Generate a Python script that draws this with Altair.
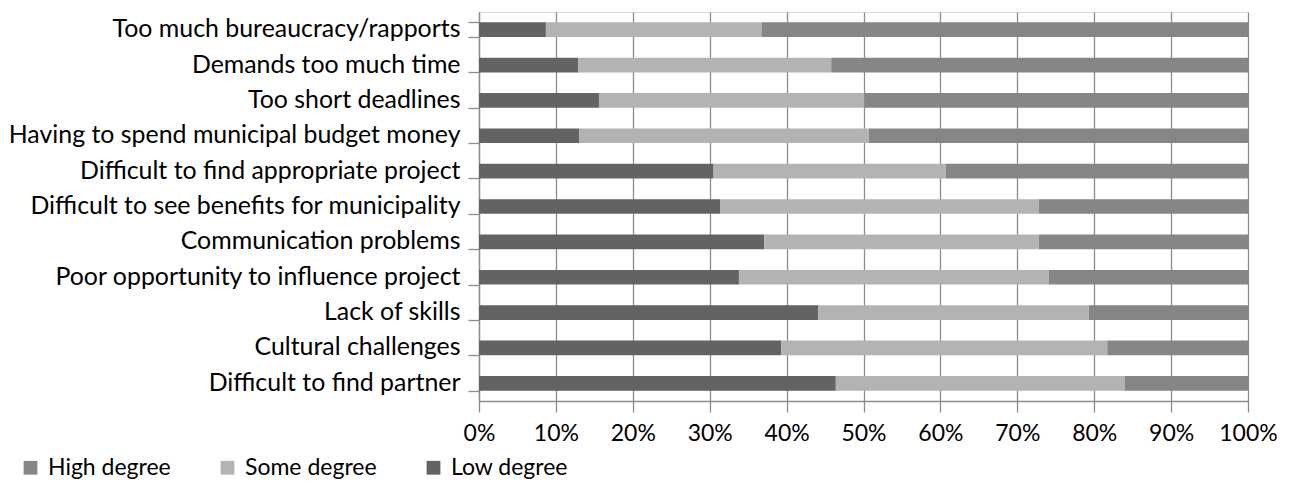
import altair as alt
import pandas as pd

categories = [
    "Too much bureaucracy/rapports",
    "Demands too much time",
    "Too short deadlines",
    "Having to spend municipal budget money",
    "Difficult to find appropriate project",
    "Difficult to see benefits for municipality",
    "Communication problems",
    "Poor opportunity to influence project",
    "Lack of skills",
    "Cultural challenges",
    "Difficult to find partner",
]
low_degree = [8.7, 12.9, 15.6, 13.0, 30.5, 31.4, 37.1, 33.8, 44.1, 39.3, 46.4]
some_degree = [28.1, 32.9, 34.5, 37.7, 30.2, 41.4, 35.7, 40.3, 35.2, 42.4, 37.6]
high_degree = [63.2, 54.2, 49.9, 49.3, 39.3, 27.2, 27.2, 25.9, 20.7, 18.3, 16.0]

series_names = ["High degree", "Some degree", "Low degree"]
series_colors = ["#868686", "#b3b3b3", "#636363"]
stack_rank = {"Low degree": 0, "Some degree": 1, "High degree": 2}
x_ticks = [0, 10, 20, 30, 40, 50, 60, 70, 80, 90, 100]

rows = []
for i, c in enumerate(categories):
    for name, vals in (("Low degree", low_degree), ("Some degree", some_degree), ("High degree", high_degree)):
        rows.append({"category": c, "series": name, "value": vals[i], "rank": stack_rank[name]})
df = pd.DataFrame(rows)

FONT = "Lato"
GRID = "#8c8c8c"

chart = alt.Chart(df).mark_bar(strokeWidth=0).encode(
    y=alt.Y(
        "category:N",
        sort=categories,
        title=None,
        scale=alt.Scale(paddingInner=0.585, paddingOuter=0.2925),
        axis=alt.Axis(
            tickBand="extent",
            ticks=True,
            tickSize=11,
            tickColor=GRID,
            tickWidth=1.3,
            domainColor=GRID,
            domainWidth=1.3,
            labelFont=FONT,
            labelFontSize=24.9,
            labelColor="#000000",
            labelPadding=8,
            labelLimit=600,
            grid=False,
        ),
    ),
    x=alt.X(
        "value:Q",
        stack="zero",
        title=None,
        scale=alt.Scale(domain=[0, 100], nice=False),
        axis=alt.Axis(
            values=x_ticks,
            labelExpr="datum.value + '%'",
            labelOverlap=False,
            labelFlush=False,
            grid=True,
            gridColor=GRID,
            gridWidth=1.3,
            tickSize=11,
            tickColor=GRID,
            tickWidth=1.3,
            domainColor=GRID,
            domainWidth=1.3,
            labelFont=FONT,
            labelFontSize=23,
            labelColor="#000000",
            labelPadding=10,
        ),
    ),
    color=alt.Color(
        "series:N",
        scale=alt.Scale(domain=series_names, range=series_colors),
        legend=alt.Legend(
            title=None,
            orient="none",
            direction="horizontal",
            legendX=-460,
            legendY=444,
            symbolType="square",
            symbolSize=190,
            symbolStrokeWidth=0,
            symbolOpacity=1,
            labelFont=FONT,
            labelFontSize=23,
            labelColor="#000000",
            labelOffset=6,
            columnPadding=45,
        ),
    ),
    order=alt.Order("rank:Q", sort="ascending"),
).properties(
    width=769,
    height=389,
    padding={"left": 479, "top": 12, "right": 47, "bottom": 81},
    autosize=alt.AutoSizeParams(type="none"),
).configure_view(
    stroke="#c0c0c0",
    strokeWidth=1,
).configure(background="white")

chart.save("out.html", embed_options={"renderer": "svg", "actions": False})
